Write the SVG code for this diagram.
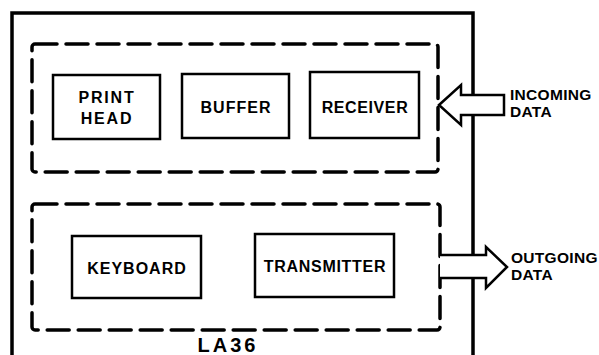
<svg xmlns="http://www.w3.org/2000/svg" width="599" height="355" viewBox="0 0 599 355">
<style>
.box{fill:#fff;stroke:#000;stroke-width:2.5}
.dash{fill:none;stroke:#000;stroke-width:3.5;stroke-dasharray:22 9;stroke-linecap:round}
.outer{fill:none;stroke:#000;stroke-width:3.5}
.arrow{fill:#fff;stroke:#000;stroke-width:2.5;stroke-linejoin:miter}
text{font-family:"Liberation Sans",Arial,sans-serif;font-weight:bold;font-size:16px;fill:#000;letter-spacing:1px}
.c{text-anchor:middle}
.lbl{font-size:15.5px;letter-spacing:0.3px}
</style>
<rect width="599" height="355" fill="#fff"/>
<g id="la36">
<path class="outer" d="M12,360 V13 H473 V360"/>
<text x="228" y="352" class="c" style="font-size:20px;letter-spacing:3px">LA36</text>
</g>
<g id="upper-group">
<rect class="dash" x="32" y="44" width="406" height="128" rx="3"/>
</g>
<g id="lower-group">
<rect class="dash" x="32" y="204" width="408" height="126" rx="3"/>
</g>
<g id="print-head">
<rect class="box" x="53" y="75" width="107" height="64"/>
<text x="107" y="103" class="c" style="letter-spacing:1.8px">PRINT</text>
<text x="107" y="124" class="c" style="letter-spacing:1.8px">HEAD</text>
</g>
<g id="buffer">
<rect class="box" x="182" y="74" width="107" height="64"/>
<text x="236" y="113" class="c">BUFFER</text>
</g>
<g id="receiver">
<rect class="box" x="310" y="72" width="109" height="66"/>
<text x="365" y="113" class="c" style="letter-spacing:0.6px">RECEIVER</text>
</g>
<g id="keyboard">
<rect class="box" x="72" y="236" width="129" height="62"/>
<text x="137" y="274" class="c">KEYBOARD</text>
</g>
<g id="transmitter">
<rect class="box" x="255" y="234" width="139" height="63"/>
<text x="325" y="272" class="c" style="letter-spacing:0.7px">TRANSMITTER</text>
</g>
<g id="connectors">
<g id="incoming">
<polygon class="arrow" points="439,105 461,85 461,95 504,95 504,115 461,115 461,125"/>
<text x="510" y="100" class="lbl">INCOMING</text>
<text x="510" y="117" class="lbl">DATA</text>
</g>
<g id="outgoing">
<polygon points="440,255 486,255 486,247 507,267 486,288 486,278 440,278" fill="#fff"/>
<path class="arrow" d="M440,255 H486 V247 L507,267 L486,288 V278 H440" style="fill:none"/>
<text x="511" y="263" class="lbl">OUTGOING</text>
<text x="511" y="280" class="lbl">DATA</text>
</g>
</g>
</svg>
